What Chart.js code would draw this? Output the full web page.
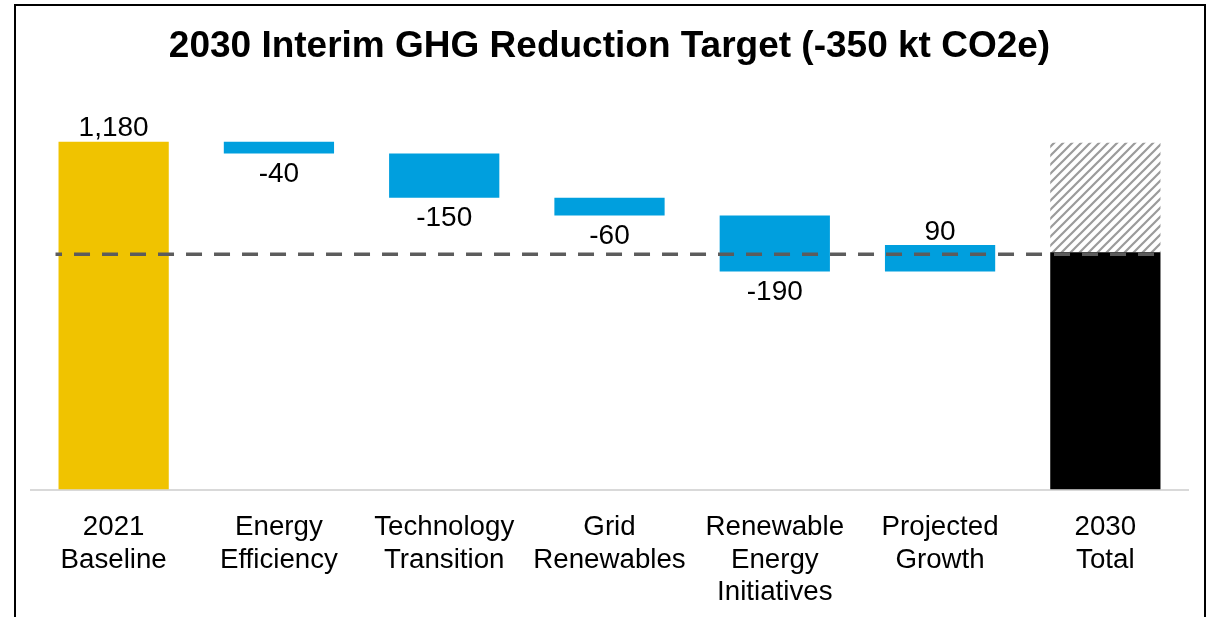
<!DOCTYPE html>
<html><head><meta charset="utf-8">
<script src="https://cdn.jsdelivr.net/npm/chart.js@4.4.1/dist/chart.umd.min.js"></script>
<style>
html,body{margin:0;padding:0;background:#fff;width:1207px;height:617px;overflow:hidden}
#frame{position:absolute;left:14px;top:4px;width:1188px;height:700px;border:2px solid #000;border-bottom:none}
#wrap{position:absolute;left:0;top:0;width:1207px;height:617px}
</style></head><body>
<div id="frame"></div>
<div id="wrap"><canvas id="c" width="1207" height="617"></canvas></div>
<script>
// ---- data ----
const categories = [['2021','Baseline'],['Energy','Efficiency'],['Technology','Transition'],['Grid','Renewables'],['Renewable','Energy','Initiatives'],['Projected','Growth'],['2030','Total']];
const baselineValue = 1180;
const changes = [-40, -150, -60, -190, 90];
const totalSolid = 805;
const totalHatchTop = 1177;
const targetLine = 798;
const valueLabels = ['1,180', '-40', '-150', '-60', '-190', '90'];
const yMax = 1300;

// ---- styles ----
const FONT = '"Liberation Sans", Arial, Helvetica, sans-serif';
const GOLD = '#F0C300', BLUE = '#009FDE', BLACK = '#000000';

// build floating ranges
const ranges = [[0, baselineValue]];
let run = baselineValue;
changes.forEach(ch => { ranges.push([run, run + ch]); run += ch; });
ranges.push([0, totalSolid]);
const hatchRanges = categories.map((c, i) => i === categories.length - 1 ? [totalSolid, totalHatchTop] : null);
const barColors = ranges.map((r, i) => i === 0 ? GOLD : (i === ranges.length - 1 ? BLACK : BLUE));
const signs = [1].concat(changes.map(c => Math.sign(c)));

function makeHatch() {
  const s = 9;
  const c = document.createElement('canvas'); c.width = s; c.height = s;
  const g = c.getContext('2d');
  g.fillStyle = '#fff'; g.fillRect(0, 0, s, s);
  g.strokeStyle = '#9b9b9b'; g.lineWidth = 2.2;
  g.beginPath();
  g.moveTo(-1, 1); g.lineTo(1, -1);
  g.moveTo(0, s); g.lineTo(s, 0);
  g.moveTo(s - 1, s + 1); g.lineTo(s + 1, s - 1);
  g.stroke();
  return g.createPattern(c, 'repeat');
}

const overlay = {
  id: 'overlay',
  afterDatasetsDraw(chart) {
    const ctx = chart.ctx;
    const y = chart.scales.y;
    const meta = chart.getDatasetMeta(0);
    // dashed target line
    const first = meta.data[0], last = meta.data[meta.data.length - 1];
    const x0 = first.x - first.width / 2 - 3;
    const x1 = last.x + last.width / 2 - 2;
    const yy = y.getPixelForValue(targetLine);
    ctx.save();
    ctx.strokeStyle = '#5c5c5c';
    ctx.lineWidth = 3.5;
    ctx.setLineDash([16, 12]);
    ctx.lineDashOffset = 9.5;
    ctx.beginPath(); ctx.moveTo(x0, yy); ctx.lineTo(x1, yy); ctx.stroke();
    ctx.restore();
    // value labels
    ctx.save();
    ctx.fillStyle = '#000';
    ctx.font = '28px ' + FONT;
    ctx.textAlign = 'center';
    ctx.textBaseline = 'middle';
    valueLabels.forEach((t, i) => {
      const el = meta.data[i];
      const top = Math.min(el.y, el.base), bottom = Math.max(el.y, el.base);
      if (signs[i] > 0) ctx.fillText(t, el.x, top - 13);
      else ctx.fillText(t, el.x, bottom + 21);
    });
    ctx.restore();
  }
};

new Chart(document.getElementById('c'), {
  type: 'bar',
  data: {
    labels: categories,
    datasets: [
      { data: ranges, backgroundColor: barColors, borderWidth: 0, grouped: false,
        categoryPercentage: 1, barPercentage: 0.667, order: 1 },
      { data: hatchRanges, backgroundColor: makeHatch(), borderWidth: 0, grouped: false,
        categoryPercentage: 1, barPercentage: 0.667, order: 2 }
    ]
  },
  options: {
    responsive: false, animation: false, devicePixelRatio: 1,
    layout: { padding: { left: 31, right: 19, top: 0, bottom: 0 } },
    plugins: {
      legend: { display: false }, tooltip: { enabled: false },
      title: { display: true, text: '2030 Interim GHG Reduction Target (-350 kt CO2e)', color: '#000',
        font: { family: FONT, size: 37, weight: 'bold', lineHeight: 1.2 }, padding: { top: 25, bottom: 37 } }
    },
    scales: {
      x: { grid: { display: false }, border: { display: true, color: '#d9d9d9', width: 2 },
        afterFit(scale) { scale.height = 127.5; },
        ticks: { color: '#000', font: { family: FONT, size: 27.7, lineHeight: 1.17 }, padding: 14, maxRotation: 0, autoSkip: false } },
      y: { display: false, min: 0, max: yMax }
    }
  },
  plugins: [overlay]
});
</script>
</body></html>
